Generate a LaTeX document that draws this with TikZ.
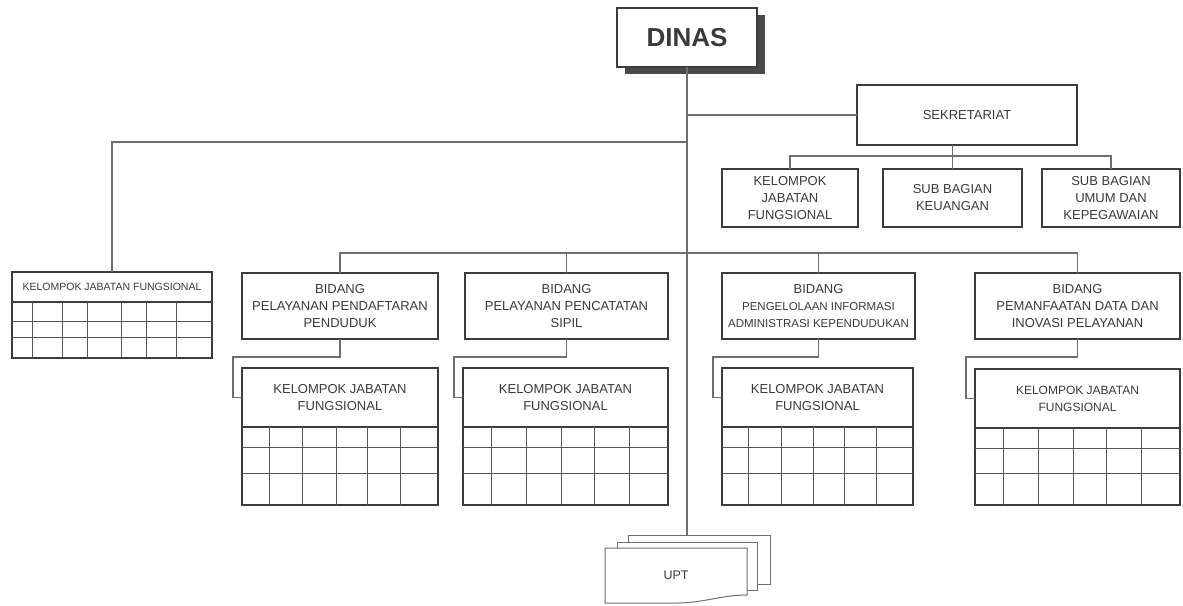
\documentclass[tikz,border=0pt]{standalone}
\usepackage{fontspec}
\setmainfont{Liberation Sans}
\usepackage{tikz}
\usetikzlibrary{positioning, calc, shadows}
\definecolor{boxline}{HTML}{3C3C3C}
\definecolor{connline}{HTML}{6E6E6E}
\definecolor{gridgray}{HTML}{555555}
\definecolor{textgray}{HTML}{3A3A3A}
\definecolor{shadowgray}{HTML}{4A4A4A}

\begin{document}
\begin{tikzpicture}[
  x=1pt, y=-1pt,
  unit/.style={rectangle, draw=boxline, line width=2pt, fill=white, outer sep=0pt, align=center, text=textgray, font=\fontsize{13}{17}\selectfont},
  dinasbox/.style={unit, line width=2.5pt, minimum width=140pt, minimum height=59pt, font=\fontsize{26}{30}\selectfont\bfseries, drop shadow={shadow xshift=8pt, shadow yshift=-7pt, fill=shadowgray, opacity=1}},
  kjf/.style={unit, minimum height=59pt},
  tabel/.style={unit, minimum height=78pt},
  conn/.style={draw=connline, line width=1.1pt},
  gridline/.style={draw=gridgray, line width=1pt},
  page/.style={rectangle, draw=connline, line width=1pt, fill=white, outer sep=0pt}
]
\useasboundingbox (0,0) rectangle (1183,605);

% Pimpinan
\node[dinasbox] (dinas) at (687,37.5) {DINAS};
\node[unit, minimum width=220pt, minimum height=60pt] (sek) at (967,115) {SEKRETARIAT};

% Sekretariat
\node[unit, minimum width=136pt, minimum height=58pt] (sj) at (790,198) {KELOMPOK\\JABATAN\\FUNGSIONAL};
\node[unit, minimum width=139pt, minimum height=58pt] (skeu) at (952.5,198) {SUB BAGIAN\\KEUANGAN};
\node[unit, minimum width=138pt, minimum height=58pt] (sum) at (1111,198) {SUB BAGIAN\\UMUM DAN\\KEPEGAWAIAN};

% Kelompok jabatan fungsional (kiri)
\node[unit, minimum width=200pt, minimum height=30pt, font=\fontsize{10.5}{13}\selectfont] (kjf0) at (112,287) {KELOMPOK JABATAN FUNGSIONAL};
\node[unit, minimum width=200pt, minimum height=56pt, below=0pt of kjf0] (tab0) {};

% Bidang
\node[unit, minimum width=196pt, minimum height=66pt] (bid1) at (340,306) {BIDANG\\PELAYANAN PENDAFTARAN\\PENDUDUK};
\node[unit, minimum width=203pt, minimum height=66pt] (bid2) at (566.5,306) {BIDANG\\PELAYANAN PENCATATAN\\SIPIL};
\node[unit, minimum width=193pt, minimum height=66pt] (bid3) at (818.5,306) {BIDANG\\{\fontsize{11.5}{17}\selectfont PENGELOLAAN INFORMASI}\\{\fontsize{11.5}{17}\selectfont ADMINISTRASI KEPENDUDUKAN}};
\node[unit, minimum width=205pt, minimum height=66pt] (bid4) at (1077.5,306) {BIDANG\\PEMANFAATAN DATA DAN\\INOVASI PELAYANAN};

% Kelompok jabatan fungsional per bidang
\node[kjf, minimum width=196pt] (kjf1) at (340,397.5) {KELOMPOK JABATAN\\FUNGSIONAL};
\node[tabel, minimum width=196pt, below=0pt of kjf1] (tab1) {};
\node[kjf, minimum width=205pt] (kjf2) at (565.5,397.5) {KELOMPOK JABATAN\\FUNGSIONAL};
\node[tabel, minimum width=205pt, below=0pt of kjf2] (tab2) {};
\node[kjf, minimum width=191pt] (kjf3) at (817.5,397.5) {KELOMPOK JABATAN\\FUNGSIONAL};
\node[tabel, minimum width=191pt, below=0pt of kjf3] (tab3) {};
\node[kjf, minimum width=205pt, font=\fontsize{12}{17}\selectfont] (kjf4) at (1077.5,398.5) {KELOMPOK JABATAN\\FUNGSIONAL};
\node[tabel, minimum width=205pt, minimum height=77pt, below=0pt of kjf4] (tab4) {};

% Kolom dan baris tabel
\foreach \t in {tab1,tab2,tab3,tab4} {
  \foreach \f in {0.14,0.31,0.48,0.64,0.81}
    \draw[gridline] ($(\t.north west)!\f!(\t.north east)$) -- ($(\t.south west)!\f!(\t.south east)$);
  \foreach \f in {0.26,0.59}
    \draw[gridline] ($(\t.north west)!\f!(\t.south west)$) -- ($(\t.north east)!\f!(\t.south east)$);
}
\foreach \f in {0.10,0.25,0.375,0.545,0.67,0.82}
  \draw[gridline] ($(tab0.north west)!\f!(tab0.north east)$) -- ($(tab0.south west)!\f!(tab0.south east)$);
\foreach \f in {0.34,0.63}
  \draw[gridline] ($(tab0.north west)!\f!(tab0.south west)$) -- ($(tab0.north east)!\f!(tab0.south east)$);

% UPT
\node[page, minimum width=142pt, minimum height=49pt] (upt3) at (699,559.5) {};
\node[page, minimum width=140pt, minimum height=48pt] (upt2) at (687,566) {};
\draw[page] (605,548) -- (747,548) -- (747,595) .. controls (722,595) and (702,603) .. (678,603) -- (605,603) -- cycle;
\node[text=textgray, font=\fontsize{12.5}{15}\selectfont] (upt) at (676,575) {UPT};

% Garis
\draw[conn] (dinas.south) -- (dinas.south |- upt3.north);
\draw[conn] (dinas.south |- sek.west) -- (sek.west);
\coordinate (cabkiri) at (688,142);
\draw[conn] (cabkiri) -| (kjf0.north);
\draw[conn] (sj.north) -- ++(0,-13) -| (sum.north);
\draw[conn] (skeu.north) -- (skeu.north |- sek.south);
\draw[conn] (bid1.north) -- ++(0,-20) -| (bid4.north);
\draw[conn] (bid2.north) -- ++(0,-20);
\draw[conn] (bid3.north) -- ++(0,-20);
\foreach \b/\k in {bid1/kjf1, bid2/kjf2, bid3/kjf3, bid4/kjf4}
  \draw[conn] (\b.south) -- ++(0,18) -| ([xshift=-9pt]\k.west) -- (\k.west);

\end{tikzpicture}
\end{document}
